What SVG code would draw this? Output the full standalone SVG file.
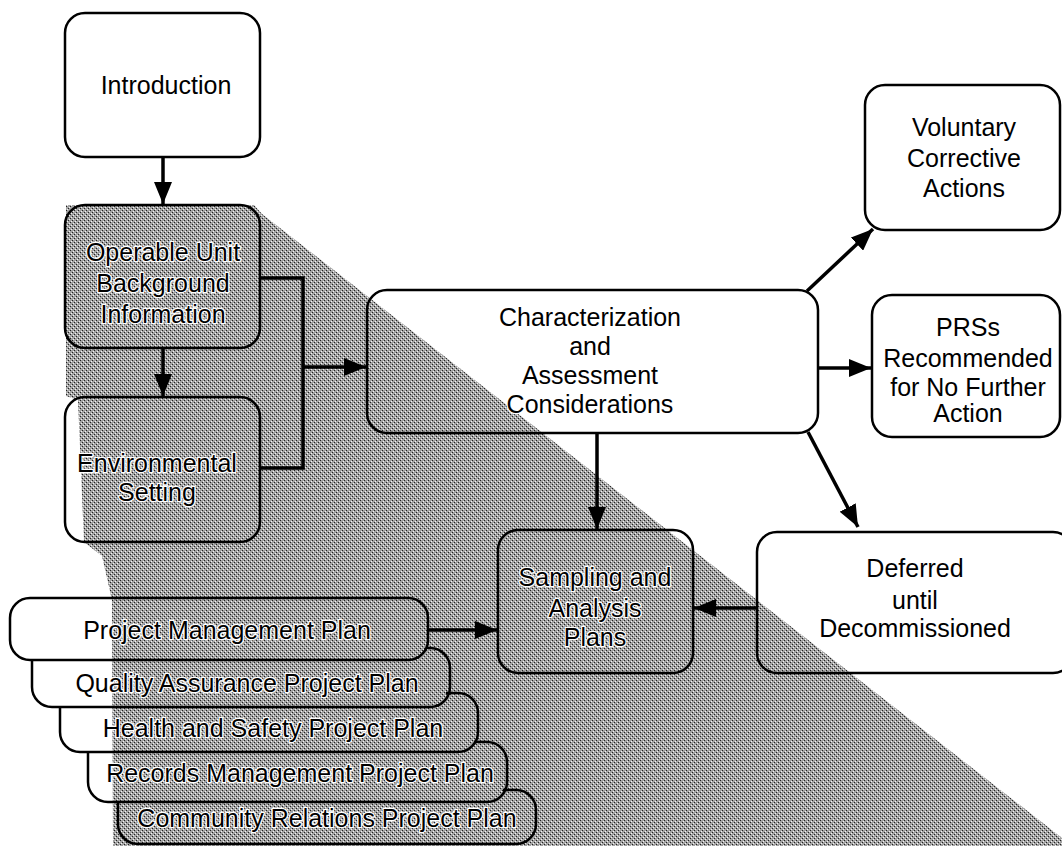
<svg xmlns="http://www.w3.org/2000/svg" width="1062" height="846" viewBox="0 0 1062 846">
<style>
.box{fill:none;stroke:#000;stroke-width:2.5;}
.t{font-family:"Liberation Sans",Arial,Helvetica,sans-serif;font-size:25px;fill:#000;text-anchor:middle;stroke:#fff;stroke-width:2.5;stroke-linejoin:round;paint-order:stroke;}
.c{fill:none;stroke:#000;stroke-width:3.5;}
</style>
<defs>
<pattern id="dither" patternUnits="userSpaceOnUse" x="0" y="0" width="4" height="4">
<rect width="4" height="4" fill="#a2a2a2"/>
<rect x="0" y="0" width="1" height="1" fill="#222"/>
<rect x="2" y="2" width="1" height="1" fill="#222"/>
<rect x="1" y="3" width="1" height="1" fill="#f4f4f4"/>
<rect x="3" y="1" width="1" height="1" fill="#f4f4f4"/>
</pattern>
<marker id="ah" markerUnits="userSpaceOnUse" markerWidth="24" markerHeight="18" refX="22" refY="9" orient="auto">
<path d="M0,0 L22,9 L0,18 z" fill="#000"/>
</marker>
</defs>
<rect width="1062" height="846" fill="#fff"/>
<polygon id="shading" points="66,205 254,205 262,214 1062,838 1062,846 113,846 112,600 102,556 84,542 78,400 66,396" fill="url(#dither)"/>

<g id="connectors">
<line class="c" x1="163" y1="157" x2="163" y2="204" marker-end="url(#ah)"/>
<line class="c" x1="163" y1="348" x2="163" y2="396" marker-end="url(#ah)"/>
<polyline class="c" points="260,278 303,278 303,468 260,468"/>
<line class="c" x1="303" y1="367" x2="366" y2="367" marker-end="url(#ah)"/>
<line class="c" x1="807" y1="291" x2="873" y2="229" marker-end="url(#ah)"/>
<line class="c" x1="818" y1="368" x2="871" y2="368" marker-end="url(#ah)"/>
<line class="c" x1="808" y1="432" x2="858" y2="527" marker-end="url(#ah)"/>
<line class="c" x1="597" y1="433" x2="597" y2="529" marker-end="url(#ah)"/>
<line class="c" x1="757" y1="608" x2="694" y2="608" marker-end="url(#ah)"/>
<line class="c" x1="428" y1="630" x2="497" y2="630" marker-end="url(#ah)"/>
</g>

<g id="introduction">
<rect class="box" x="65" y="13" width="195" height="144" rx="20"/>
<text class="t" x="166" y="94">Introduction</text>
</g>
<g id="operable-unit">
<rect class="box" x="65" y="205" width="195" height="143" rx="20"/>
<text class="t" x="163" y="261">Operable Unit</text>
<text class="t" x="163" y="292">Background</text>
<text class="t" x="163" y="323">Information</text>
</g>
<g id="environmental-setting">
<rect class="box" x="65" y="397" width="195" height="145" rx="20"/>
<text class="t" x="157" y="472">Environmental</text>
<text class="t" x="157" y="501">Setting</text>
</g>
<g id="characterization">
<rect class="box" x="367" y="290" width="451" height="143" rx="20"/>
<text class="t" x="590" y="326">Characterization</text>
<text class="t" x="590" y="355">and</text>
<text class="t" x="590" y="384">Assessment</text>
<text class="t" x="590" y="413">Considerations</text>
</g>
<g id="sampling">
<rect class="box" x="498" y="530" width="195" height="143" rx="20"/>
<text class="t" x="595" y="586">Sampling and</text>
<text class="t" x="595" y="617">Analysis</text>
<text class="t" x="595" y="646">Plans</text>
</g>
<g id="deferred">
<rect class="box" x="757" y="532" width="316" height="141" rx="20"/>
<text class="t" x="915" y="577">Deferred</text>
<text class="t" x="915" y="609">until</text>
<text class="t" x="915" y="637">Decommissioned</text>
</g>
<g id="voluntary">
<rect class="box" x="865" y="85" width="195" height="145" rx="20"/>
<text class="t" x="964" y="136">Voluntary</text>
<text class="t" x="964" y="167">Corrective</text>
<text class="t" x="964" y="197">Actions</text>
</g>
<g id="prss">
<rect class="box" x="872" y="295" width="188" height="142" rx="20"/>
<text class="t" x="968" y="336">PRSs</text>
<text class="t" x="968" y="367">Recommended</text>
<text class="t" x="968" y="396">for No Further</text>
<text class="t" x="968" y="422">Action</text>
</g>

<g id="community-relations">
<path class="box" d="M503,790 L516,790 A20,20 0 0 1 536,810 L536,824 A20,20 0 0 1 516,844 L138,844 A20,20 0 0 1 118,824 L118,802"/>
<text class="t" x="327" y="827">Community Relations Project Plan</text>
</g>
<g id="records-management">
<path class="box" d="M474,742 L487,742 A20,20 0 0 1 507,762 L507,782 A20,20 0 0 1 487,802 L108,802 A20,20 0 0 1 88,782 L88,752"/>
<text class="t" x="300" y="782">Records Management Project Plan</text>
</g>
<g id="health-safety">
<path class="box" d="M446,693 L458,693 A20,20 0 0 1 478,713 L478,732 A20,20 0 0 1 458,752 L80,752 A20,20 0 0 1 60,732 L60,707"/>
<text class="t" x="273" y="737">Health and Safety Project Plan</text>
</g>
<g id="quality-assurance">
<path class="box" d="M426,648 L430,648 A20,20 0 0 1 450,668 L450,687 A20,20 0 0 1 430,707 L52,707 A20,20 0 0 1 32,687 L32,660"/>
<text class="t" x="247" y="692">Quality Assurance Project Plan</text>
</g>
<g id="project-management">
<rect class="box" x="10" y="598" width="418" height="62" rx="20"/>
<text class="t" x="227" y="639">Project Management Plan</text>
</g>
</svg>
